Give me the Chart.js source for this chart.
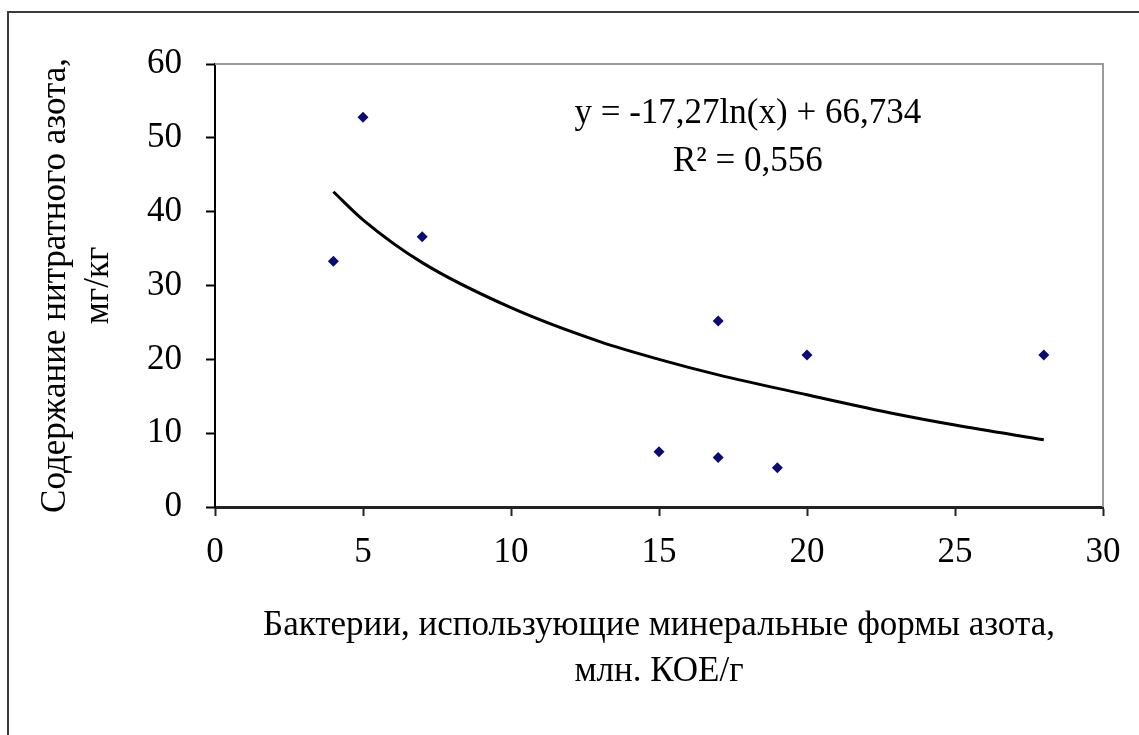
<!DOCTYPE html>
<html>
<head>
<meta charset="utf-8">
<script src="https://cdn.jsdelivr.net/npm/chart.js@4"></script>
<style>
  html, body { margin: 0; padding: 0; background: #fff; overflow: hidden; }
  #frame { position: absolute; left: 7px; top: 11px; width: 1200px; height: 800px;
           border-top: 2px solid #3c3c3c; border-left: 2px solid #3c3c3c; }
  #chart { position: absolute; left: 0; top: 0; }
</style>
</head>
<body>
<div id="frame"></div>
<canvas id="chart" width="1139" height="735"></canvas>
<script>
// measured points: bacteria (mln CFU/g) vs nitrate nitrogen (mg/kg)
const bacteria = [4, 5, 7, 15, 17, 17, 19, 20, 28];
const nitrate = [33.3, 52.8, 36.6, 7.5, 25.2, 6.7, 5.3, 20.6, 20.6];

// trend line
const trendX = [4, 5, 7, 10, 13, 15, 17, 20, 23, 25, 28];
const trendY = [42.7, 38.9, 33.1, 27.0, 22.4, 20.0, 17.9, 15.2, 12.6, 11.1, 9.1];

const xTitle = ['Бактерии, использующие минеральные формы азота,', 'млн. КОЕ/г'];
const yTitle = ['Содержание нитратного азота,', 'мг/кг'];
const equation = ['y = -17,27ln(x) + 66,734', 'R² = 0,556'];

const FONT_SIZE = 35;

Chart.defaults.font.family = "'Liberation Serif', 'Times New Roman', serif";
Chart.defaults.color = '#000';

// gray frame round the plot area + the trend equation
const plotExtras = {
    id: 'plotExtras',
    beforeDatasetsDraw(chart) {
        const a = chart.chartArea;
        const ctx = chart.ctx;
        ctx.save();
        ctx.strokeStyle = '#9a9a9a';
        ctx.lineWidth = 2;
        ctx.beginPath();
        ctx.moveTo(a.left, a.top);
        ctx.lineTo(a.right, a.top);
        ctx.lineTo(a.right, a.bottom);
        ctx.stroke();
        ctx.restore();
    },
    afterDatasetsDraw(chart) {
        const ctx = chart.ctx;
        const xs = chart.scales.x, ys = chart.scales.y;
        ctx.save();
        ctx.fillStyle = '#000';
        ctx.font = FONT_SIZE + "px 'Liberation Serif', serif";
        ctx.textAlign = 'center';
        ctx.textBaseline = 'middle';
        ctx.fillText(equation[0], xs.getPixelForValue(18), ys.getPixelForValue(53.2));
        ctx.fillText(equation[1], xs.getPixelForValue(18), ys.getPixelForValue(46.7));
        ctx.restore();
    }
};

const ctx = document.getElementById('chart');

new Chart(ctx, {
    type: 'scatter',
    data: {
        datasets: [
            {
                label: 'data',
                data: bacteria.map((b, i) => ({ x: b, y: nitrate[i] })),
                pointStyle: 'rectRot',
                pointRadius: 5.5,
                backgroundColor: '#0b0b78',
                borderColor: '#0b0b78',
                borderWidth: 0,
                order: 0
            },
            {
                type: 'line',
                label: 'trend',
                data: trendX.map((t, i) => ({ x: t, y: trendY[i] })),
                borderColor: '#000',
                borderWidth: 3,
                pointRadius: 0,
                cubicInterpolationMode: 'monotone',
                fill: false,
                order: 1
            }
        ]
    },
    options: {
        responsive: false,
        animation: false,
        layout: { padding: { left: 0, top: 64, right: 36, bottom: 38 } },
        plugins: { legend: { display: false }, tooltip: { enabled: false } },
        scales: {
            x: {
                type: 'linear',
                min: 0, max: 30,
                ticks: { stepSize: 5, padding: 16, font: { size: FONT_SIZE }, color: '#000' },
                grid: { drawOnChartArea: false, drawTicks: true, tickLength: 9, tickColor: '#222', tickWidth: 2 },
                border: { color: '#222', width: 3 },
                title: {
                    display: true,
                    text: xTitle,
                    color: '#000',
                    font: { size: FONT_SIZE, lineHeight: 1.314 },
                    padding: { top: 30, bottom: 2 }
                },
                afterFit(scale) { scale.height = 190; }
            },
            y: {
                min: 0, max: 60,
                ticks: { stepSize: 10, padding: 24, font: { size: FONT_SIZE }, color: '#000' },
                grid: { drawOnChartArea: false, drawTicks: true, tickLength: 9, tickColor: '#000', tickWidth: 2 },
                border: { color: '#000', width: 2 },
                title: {
                    display: true,
                    text: yTitle,
                    color: '#000',
                    font: { size: FONT_SIZE, lineHeight: 1.23 },
                    padding: { top: 34, bottom: 0 }
                },
                afterFit(scale) { scale.width = 215; }
            }
        }
    },
    plugins: [plotExtras]
});
</script>
</body>
</html>
